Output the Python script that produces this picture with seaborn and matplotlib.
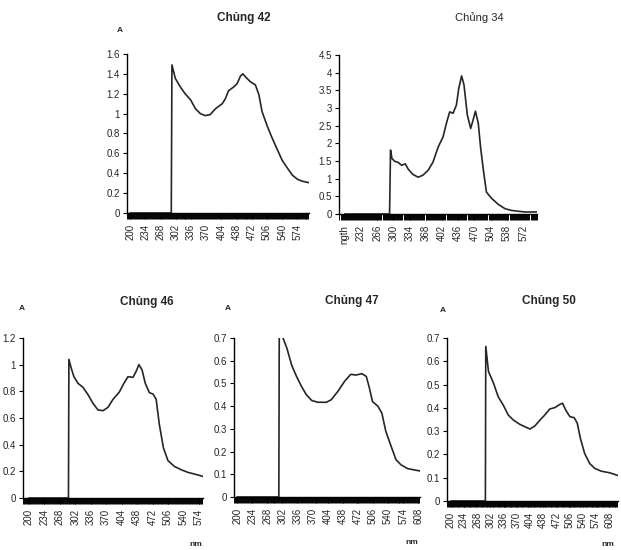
import matplotlib
matplotlib.use("Agg")
import matplotlib.pyplot as plt
import seaborn as sns
import numpy as np
import pandas as pd
from matplotlib.ticker import FixedLocator

# ---------------- data ----------------
wl_42 = [200, 292, 293.5, 301, 312, 323, 335, 346, 357, 368, 379, 391, 406, 413, 420, 432, 439, 447, 452,
         458, 469, 480, 488, 495, 507, 518, 529, 540, 552, 563, 574, 585, 600]
abs_42 = [0, 0, 1.49, 1.355, 1.27, 1.20, 1.14, 1.05, 1.00, 0.98, 0.99, 1.05, 1.10, 1.15, 1.23, 1.27, 1.30, 1.38, 1.40,
          1.37, 1.32, 1.29, 1.19, 1.02, 0.87, 0.75, 0.64, 0.53, 0.45, 0.38, 0.34, 0.32, 0.305]

wl_34 = [198, 292, 294, 297, 303, 310, 317, 325, 331, 341, 352, 362, 373, 383, 394, 404, 411, 418, 425,
         432, 437, 443, 448, 455, 462, 467, 472, 478, 483, 490, 495, 506, 520, 534, 548, 562, 576, 601]
abs_34 = [0, 0, 1.81, 1.57, 1.49, 1.46, 1.38, 1.42, 1.27, 1.12, 1.04, 1.10, 1.24, 1.47, 1.90, 2.18, 2.56, 2.89, 2.85,
          3.08, 3.55, 3.91, 3.65, 2.80, 2.42, 2.66, 2.91, 2.56, 1.85, 1.10, 0.62, 0.44, 0.27, 0.15, 0.10, 0.077, 0.057, 0.057]

wl_46 = [200, 287, 288, 293, 299, 308, 319, 330, 341, 352, 363, 374, 385, 399, 409, 418, 429, 436, 442,
         449, 456, 465, 473, 480, 487, 496, 506, 520, 535, 550, 564, 583]
abs_46 = [0, 0, 1.04, 0.975, 0.91, 0.86, 0.83, 0.775, 0.71, 0.66, 0.655, 0.68, 0.74, 0.795, 0.86, 0.91, 0.905, 0.95, 1.00,
          0.96, 0.86, 0.79, 0.78, 0.74, 0.55, 0.375, 0.28, 0.237, 0.212, 0.192, 0.18, 0.162]

wl_47 = [200, 294, 295, 302, 312, 323, 334, 345, 356, 368, 382, 401, 412, 427, 442, 456, 468, 481,
         491, 498, 505, 517, 526, 535, 547, 558, 569, 584, 608, 612]
abs_47 = [0, 0, 0.78, 0.707, 0.656, 0.58, 0.53, 0.487, 0.45, 0.425, 0.417, 0.417, 0.428, 0.465, 0.509, 0.54, 0.537, 0.543,
          0.531, 0.48, 0.42, 0.40, 0.37, 0.289, 0.223, 0.164, 0.142, 0.125, 0.116, 0.115]

wl_50 = [200, 289, 290, 297, 310, 322, 335, 348, 361, 378, 391, 404, 417, 430, 442, 455, 468, 481, 488,
         496, 507, 518, 526, 534, 545, 558, 571, 588, 610, 630]
abs_50 = [0, 0, 0.664, 0.556, 0.506, 0.448, 0.412, 0.369, 0.348, 0.329, 0.319, 0.309, 0.323, 0.348, 0.369, 0.395, 0.401,
          0.415, 0.42, 0.391, 0.362, 0.358, 0.334, 0.269, 0.204, 0.161, 0.14, 0.128, 0.121, 0.11]

titles = ["Chủng 42", "Chủng 34", "Chủng 46", "Chủng 47", "Chủng 50"]
ticks_42 = [200, 234, 268, 302, 336, 370, 404, 438, 472, 506, 540, 574]
ticks_34 = [198, 232, 266, 300, 334, 368, 402, 436, 470, 504, 538, 572]
labels_34 = ["ngth", "232", "266", "300", "334", "368", "402", "436", "470", "504", "538", "572"]
ticks_47 = [200, 234, 268, 302, 336, 370, 404, 438, 472, 506, 540, 574, 608]

# ---------------- style ----------------
sns.set_theme(style="ticks")
plt.rcParams["font.family"] = ["Liberation Sans", "DejaVu Sans"]
TITLE_FONT = ["Liberation Sans Narrow", "Liberation Sans", "DejaVu Sans"]

W, H = 621, 550
fig = plt.figure(figsize=(W / 100, H / 100), dpi=100)
fig.patch.set_facecolor("white")

def add_ax(l, r, t, b):
    return fig.add_axes([l / W, 1 - b / H, (r - l) / W, (b - t) / H])

LINE = "#262626"

panels = [
    dict(wl=wl_42, ab=abs_42, box=(127, 309, 54, 213), ylim=1.6, ystep=0.2, xl=(193, 600),
         ticks=ticks_42, labels=[str(t) for t in ticks_42]),
    dict(wl=wl_34, ab=abs_34, box=(339, 537, 55, 214), ylim=4.5, ystep=0.5, xl=(186, 601),
         ticks=ticks_34, labels=labels_34),
    dict(wl=wl_46, ab=abs_46, box=(23, 203, 338, 498), ylim=1.2, ystep=0.2, xl=(187, 583),
         ticks=ticks_42, labels=[str(t) for t in ticks_42]),
    dict(wl=wl_47, ab=abs_47, box=(234, 420, 338, 497), ylim=0.7, ystep=0.1, xl=(193, 612),
         ticks=ticks_47, labels=[str(t) for t in ticks_47]),
    dict(wl=wl_50, ab=abs_50, box=(447, 618, 338, 501), ylim=0.7, ystep=0.1, xl=(190, 631),
         ticks=ticks_47, labels=[str(t) for t in ticks_47]),
]

def fmt(v):
    s = f"{v:.1f}"
    if s.endswith(".0"):
        s = s[:-2]
    return s

for p in panels:
    ax = add_ax(*p["box"])
    df = pd.DataFrame({"wl": p["wl"], "A": p["ab"]})
    sns.lineplot(data=df, x="wl", y="A", ax=ax, color=LINE, linewidth=1.2, estimator=None, sort=False)
    ax.set_xlim(*p["xl"])
    ax.set_ylim(0, p["ylim"])
    ax.set_xlabel("")
    ax.set_ylabel("")
    for s in ["top", "right"]:
        ax.spines[s].set_visible(False)
    for s in ["left", "bottom"]:
        ax.spines[s].set_linewidth(1.0)
        ax.spines[s].set_color("black")
    yt = np.round(np.arange(0, p["ylim"] + 1e-6, p["ystep"]), 2)
    ax.set_yticks(yt)
    ax.set_yticklabels([fmt(v) for v in yt], fontsize=7)
    ax.set_xticks(p["ticks"])
    ax.set_xticklabels(p["labels"], rotation=90, fontsize=7)
    ax.xaxis.set_minor_locator(FixedLocator(np.arange(p["xl"][0] + 1, p["xl"][1], 2.2)))
    ax.tick_params(axis="x", which="both", direction="out", length=4, width=0.7, color="black", pad=4)
    ax.tick_params(axis="y", which="major", direction="out", length=3, width=0.8, color="black", pad=2)
    ax.grid(False)
    ax.set_facecolor("white")

# titles
def ftxt(x, y, s, **kw):
    fig.text(x / W, 1 - y / H, s, ha="center", va="center", **kw)

ftxt(244, 18, titles[0], fontsize=8.5, fontweight="bold", family=TITLE_FONT)
ftxt(479, 18, titles[1], fontsize=8, family=TITLE_FONT)
ftxt(147, 302, titles[2], fontsize=8.5, fontweight="bold", family=TITLE_FONT)
ftxt(352, 301, titles[3], fontsize=8.5, fontweight="bold", family=TITLE_FONT)
ftxt(549, 301, titles[4], fontsize=8.5, fontweight="bold", family=TITLE_FONT)

# axis letters
ftxt(120, 31, "A", fontsize=6, fontweight="bold", family=TITLE_FONT)
ftxt(22, 309, "A", fontsize=6, fontweight="bold", family=TITLE_FONT)
ftxt(228, 309, "A", fontsize=6, fontweight="bold", family=TITLE_FONT)
ftxt(443, 310, "A", fontsize=6, fontweight="bold", family=TITLE_FONT)
ftxt(196, 544, "nm", fontsize=6, fontweight="bold", family=TITLE_FONT)
ftxt(412, 542, "nm", fontsize=6, fontweight="bold", family=TITLE_FONT)
ftxt(608, 545, "nm", fontsize=6, fontweight="bold", family=TITLE_FONT)

fig.savefig("out.png", dpi=100, facecolor="white")
